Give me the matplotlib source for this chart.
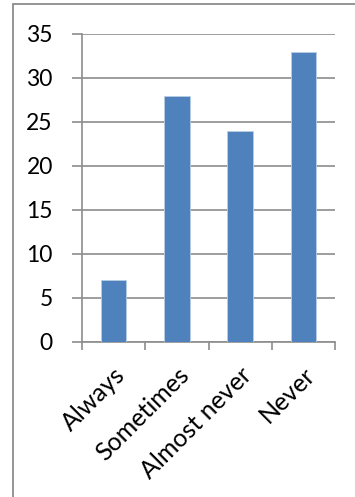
import matplotlib
matplotlib.use("Agg")
import matplotlib.pyplot as plt
import matplotlib.transforms as mtransforms
from matplotlib.patches import Rectangle

categories = ["Always", "Sometimes", "Almost never", "Never"]
values = [7, 28, 24, 33]
y_ticks = [0, 5, 10, 15, 20, 25, 30, 35]

plt.rcParams["font.family"] = ["Lato", "DejaVu Sans"]

W, H, DPI = 355, 497, 100
fig = plt.figure(figsize=(W / DPI, H / DPI), dpi=DPI)

# chart-area frame (only its left and top edges fall inside the image)
fig.patches.append(Rectangle((13 / W, -0.1), 1.2, 1 - 4 / H + 0.1,
                             transform=fig.transFigure, fill=False,
                             edgecolor="#8c8c8c", linewidth=1.3))

ax = fig.add_axes([82 / W, 1 - 342 / H, (335 - 82) / W, (342 - 34) / H])

x = list(range(len(categories)))
ax.bar(x, values, width=0.4, color="#4f81bd", edgecolor="#b9cde5",
       linewidth=0.6, zorder=3)

ax.set_xlim(-0.5, len(categories) - 0.5)
ax.set_ylim(0, 35)
ax.set_yticks(y_ticks)
ax.set_yticklabels([str(v) for v in y_ticks], fontsize=16.5)
ax.yaxis.grid(True, color="#8c8c8c", linewidth=1.2, zorder=0)
ax.set_axisbelow(True)

# category tick marks sit between categories
ax.set_xticks([i - 0.5 for i in range(len(categories) + 1)], minor=False)
ax.set_xticklabels([])
ax.set_xticks(x, minor=True)
ax.set_xticklabels(categories, minor=True, rotation=45, ha="right",
                   rotation_mode="anchor", fontsize=18)
shift = mtransforms.ScaledTranslation(-4 / DPI, 0, fig.dpi_scale_trans)
for lbl in ax.get_xticklabels(minor=True):
    lbl.set_transform(lbl.get_transform() + shift)
ax.tick_params(axis="x", which="major", length=6, width=1.2,
               color="#8c8c8c", direction="out")
ax.tick_params(axis="x", which="minor", length=0, pad=15)
ax.tick_params(axis="y", length=7, width=1.2, color="#8c8c8c", pad=14)

for side in ["top", "right"]:
    ax.spines[side].set_visible(False)
for side in ["left", "bottom"]:
    ax.spines[side].set_color("#8c8c8c")
    ax.spines[side].set_linewidth(1.2)

fig.savefig("out.png", dpi=DPI)
